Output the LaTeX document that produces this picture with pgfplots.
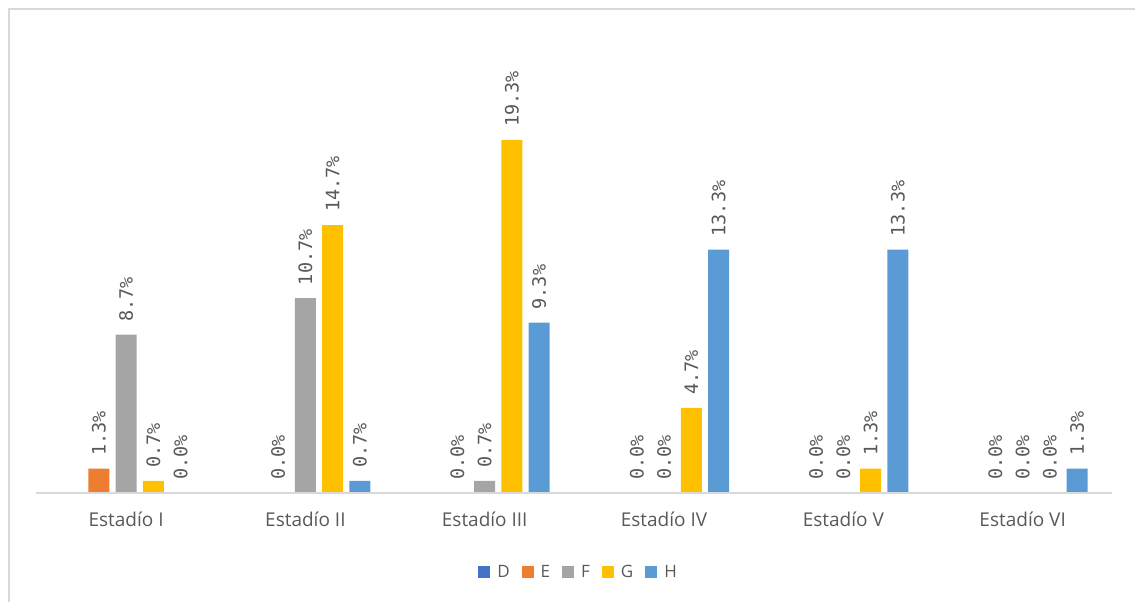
\documentclass[border=0pt]{standalone}
\usepackage{pgfplots}
\pgfplotsset{compat=1.18}
\usepackage{fontspec}
\setmainfont{Open Sans}
\newfontfamily\monofont{DejaVu Sans Mono}
\definecolor{cD}{HTML}{4472C4}
\definecolor{cE}{HTML}{ED7D31}
\definecolor{cF}{HTML}{A5A5A5}
\definecolor{cG}{HTML}{FFC000}
\definecolor{cH}{HTML}{5B9BD5}
\definecolor{txt}{HTML}{595959}
\definecolor{axisgray}{HTML}{D9D9D9}
\definecolor{frame}{HTML}{D9D9D9}
\pgfplotsset{
  mybar/.style={ybar, draw=none, bar shift=0,
    legend image code/.code={\fill[##1] (0bp,-6bp) rectangle (12bp,6bp);}},
}
\begin{document}
\begin{tikzpicture}
\path[use as bounding box] (0,0) rectangle (1135bp,602bp);
\draw[draw=frame, line width=2bp] (9bp,-5bp) -- (9bp,593bp) -- (1140bp,593bp);
\begin{axis}[
  at={(36.4bp,109bp)}, anchor=south west,
  width=1076bp, height=456.5bp, scale only axis,
  xmin=-0.5, xmax=5.5, ymin=0, ymax=25,
  axis x line*=bottom, hide y axis, axis on top,
  x axis line style={-, draw=axisgray, line width=1.2bp},
  xtick={0,...,5},
  xticklabels={Estadío I,Estadío II,Estadío III,Estadío IV,Estadío V,Estadío VI},
  major tick length=0pt,
  xticklabel style={font=\fontsize{19bp}{23bp}\selectfont, text=txt, inner sep=0pt, anchor=north, yshift=-19bp},
  bar width=0.117,
  clip=false,
  nodes near coords={\pgfmathprintnumber[assume math mode=true,fixed,fixed zerofill,precision=1]{\pgfplotspointmeta}\%},
  every node near coord/.append style={font=\monofont\fontsize{18.5bp}{22bp}\selectfont, text=txt, rotate=90, anchor=west, inner xsep=13bp, inner ysep=0pt},
  legend columns=5,
  legend style={at={(0.503,0)}, anchor=center, yshift=-79bp, draw=none, fill=none,
    font=\fontsize{17bp}{20bp}\selectfont, text=txt, nodes={inner sep=0pt},
    /tikz/every odd column/.append style={column sep=7bp},
    /tikz/every even column/.append style={column sep=12bp}},
  legend image code/.code={\fill[#1] (0bp,-6bp) rectangle (12bp,6bp);},
]
\addlegendimage{fill=cD, draw=none}
% E series (offset -0.152 within each group)
\addplot[mybar, fill=cE] coordinates {(-0.152,1.333) (0.848,0) (1.848,0) (2.848,0) (3.848,0) (4.848,0)};
% F series (group centre)
\addplot[mybar, fill=cF] coordinates {(0,8.667) (1,10.667) (2,0.667) (3,0) (4,0) (5,0)};
% G series (offset +0.152)
\addplot[mybar, fill=cG] coordinates {(0.152,0.667) (1.152,14.667) (2.152,19.333) (3.152,4.667) (4.152,1.333) (5.152,0)};
% H series (offset +0.304)
\addplot[mybar, fill=cH] coordinates {(0.304,0) (1.304,0.667) (2.304,9.333) (3.304,13.333) (4.304,13.333) (5.304,1.333)};
\legend{D,E,F,G,H}
\end{axis}
\end{tikzpicture}
\end{document}
